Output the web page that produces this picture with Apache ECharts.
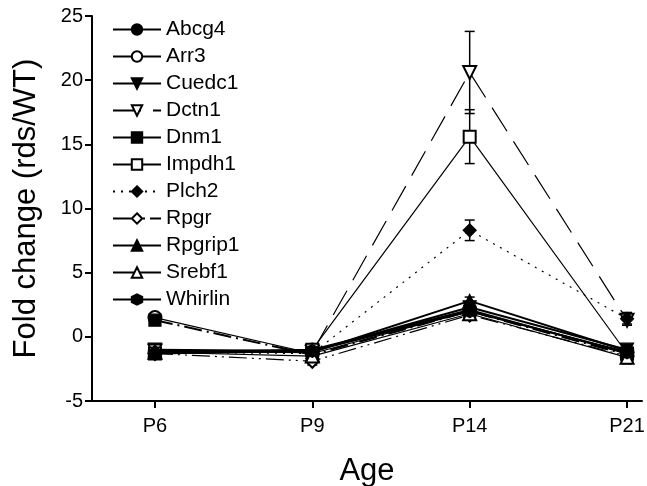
<!DOCTYPE html>
<html>
<head>
<meta charset="utf-8">
<script src="https://cdn.jsdelivr.net/npm/echarts@6/dist/echarts.min.js"></script>
<style>
  html, body { margin: 0; padding: 0; background: #fff; }
  #chart { width: 647px; height: 486px; }
</style>
</head>
<body>
<div id="chart"></div>
<script>
var ages = ['P6', 'P9', 'P14', 'P21'];

// mean fold change per age (P6, P9, P14, P21)
var abcg4   = [-1.2, -1.0, 2.1, -1.3];
var arr3    = [1.5, -1.3, 2.0, -1.2];
var cuedc1  = [-1.0, -1.1, 2.3, -1.0];
var dctn1   = [-1.1, -1.2, 20.6, 1.3];
var dnm1    = [1.3, -1.4, 2.0, -1.4];
var impdh1  = [-1.3, -1.0, 15.6, -1.3];
var plch2   = [-1.2, -1.3, 8.3, 1.4];
var rpgr    = [-1.3, -1.9, 1.7, -1.5];
var rpgrip1 = [-1.1, -1.2, 2.8, -1.1];
var srebf1  = [-1.2, -1.5, 1.8, -1.6];
var whirlin = [-1.3, -1.1, 2.0, -1.2];

// error (SEM)
var abcg4Err   = [0.3, 0.2, 0.3, 0.3];
var arr3Err    = [0.2, 0.2, 0.3, 0.3];
var cuedc1Err  = [0.2, 0.2, 0.3, 0.3];
var dctn1Err   = [0.3, 0.2, 3.2, 0.3];
var dnm1Err    = [0.2, 0.2, 0.3, 0.4];
var impdh1Err  = [0.3, 0.2, 2.1, 0.4];
var plch2Err   = [0.3, 0.2, 0.8, 0.5];
var rpgrErr    = [0.2, 0.3, 0.3, 0.4];
var rpgrip1Err = [0.2, 0.2, 0.3, 0.3];
var srebf1Err  = [0.2, 0.2, 0.3, 0.5];
var whirlinErr = [0.3, 0.2, 0.3, 0.4];

var hexagon = 'path://M0,-10L8.66,-5L8.66,5L0,10L-8.66,5L-8.66,-5Z';

// name, means, errors, symbol, rotate, line width, dash
var defs = [
    ['Abcg4',   abcg4,   abcg4Err,   'circle',        0,   2,   'solid'],
    ['Arr3',    arr3,    arr3Err,    'emptyCircle',   0,   1.2, 'solid'],
    ['Cuedc1',  cuedc1,  cuedc1Err,  'triangle',      180, 2,   'solid'],
    ['Dctn1',   dctn1,   dctn1Err,   'emptyTriangle', 180, 1.2, [28, 12]],
    ['Dnm1',    dnm1,    dnm1Err,    'rect',          0,   2,   [18, 5, 2, 5]],
    ['Impdh1',  impdh1,  impdh1Err,  'emptyRect',     0,   1.2, 'solid'],
    ['Plch2',   plch2,   plch2Err,   'diamond',       0,   1.2, [2, 6]],
    ['Rpgr',    rpgr,    rpgrErr,    'emptyDiamond',  0,   1.2, [18, 5, 2, 5, 2, 5]],
    ['Rpgrip1', rpgrip1, rpgrip1Err, 'triangle',      0,   2,   'solid'],
    ['Srebf1',  srebf1,  srebf1Err,  'emptyTriangle', 0,   1.2, 'solid'],
    ['Whirlin', whirlin, whirlinErr, hexagon,         0,   2,   'solid']
];

var font = 'Liberation Sans, Arial, Helvetica, sans-serif';

function errorBar(params, api) {
    var x = api.value(0);
    var hi = api.coord([x, api.value(1) + api.value(2)]);
    var lo = api.coord([x, api.value(1) - api.value(2)]);
    var st = { stroke: '#000', lineWidth: 1.5 };
    var w = 5;
    return {
        type: 'group',
        children: [
            { type: 'line', shape: { x1: hi[0], y1: hi[1], x2: lo[0], y2: lo[1] }, style: st },
            { type: 'line', shape: { x1: hi[0] - w, y1: hi[1], x2: hi[0] + w, y2: hi[1] }, style: st },
            { type: 'line', shape: { x1: lo[0] - w, y1: lo[1], x2: lo[0] + w, y2: lo[1] }, style: st }
        ]
    };
}

var series = [];
var errData = [];
defs.forEach(function (d) {
    var pts = d[1].map(function (v, i) { return [i, v]; });
    d[1].forEach(function (v, i) { errData.push([i, v, d[2][i]]); });
    series.push({
        name: d[0],
        type: 'line',
        data: pts,
        symbol: d[3],
        symbolRotate: d[4],
        symbolSize: d[3] === 'rect' || d[3] === 'emptyRect' ? 12 : 13,
        showAllSymbol: true,
        color: '#000',
        itemStyle: { color: '#000', borderColor: '#000', borderWidth: 1.2 },
        lineStyle: { color: '#000', width: d[5], type: d[6] },
        emphasis: { disabled: true },
        z: 3
    });
});
series.unshift({
    type: 'custom',
    name: 'err',
    renderItem: errorBar,
    data: errData,
    encode: { x: 0, y: 1 },
    z: 2,
    silent: true
});

var chart = echarts.init(document.getElementById('chart'));
chart.setOption({
    animation: false,
    backgroundColor: '#fff',
    textStyle: { fontFamily: font },
    grid: { left: 92, right: 5, top: 16, bottom: 85, outerBoundsMode: 'none', containLabel: false },
    legend: {
        orient: 'vertical',
        left: 107,
        top: 14,
        data: defs.map(function (d) { return d[0]; }),
        itemWidth: 48,
        itemHeight: 13,
        itemGap: 6,
        textStyle: { fontSize: 21, fontFamily: font, color: '#000', lineHeight: 21 }
    },
    xAxis: {
        type: 'value',
        min: -0.4,
        max: 3.095,
        name: 'Age',
        nameLocation: 'middle',
        nameGap: 55,
        nameTextStyle: { fontSize: 31, fontFamily: font, color: '#000' },
        splitLine: { show: false },
        axisLine: { onZero: false, lineStyle: { color: '#000', width: 2 } },
        axisTick: { customValues: [0, 1, 2, 3], length: 7, lineStyle: { color: '#000', width: 2 } },
        axisLabel: {
            customValues: [0, 1, 2, 3],
            margin: 15,
            fontSize: 20,
            color: '#000',
            fontFamily: font,
            formatter: function (v) { return ages[Math.round(v)]; }
        }
    },
    yAxis: {
        type: 'value',
        min: -5,
        max: 25,
        interval: 5,
        name: 'Fold change (rds/WT)',
        nameLocation: 'middle',
        nameGap: 50,
        nameTextStyle: { fontSize: 31, fontFamily: font, color: '#000' },
        splitLine: { show: false },
        axisLine: { show: true, onZero: false, lineStyle: { color: '#000', width: 2 } },
        axisTick: { show: true, length: 7, lineStyle: { color: '#000', width: 2 } },
        axisLabel: { margin: 9, fontSize: 20, color: '#000', fontFamily: font }
    },
    series: series
});
</script>
</body>
</html>
